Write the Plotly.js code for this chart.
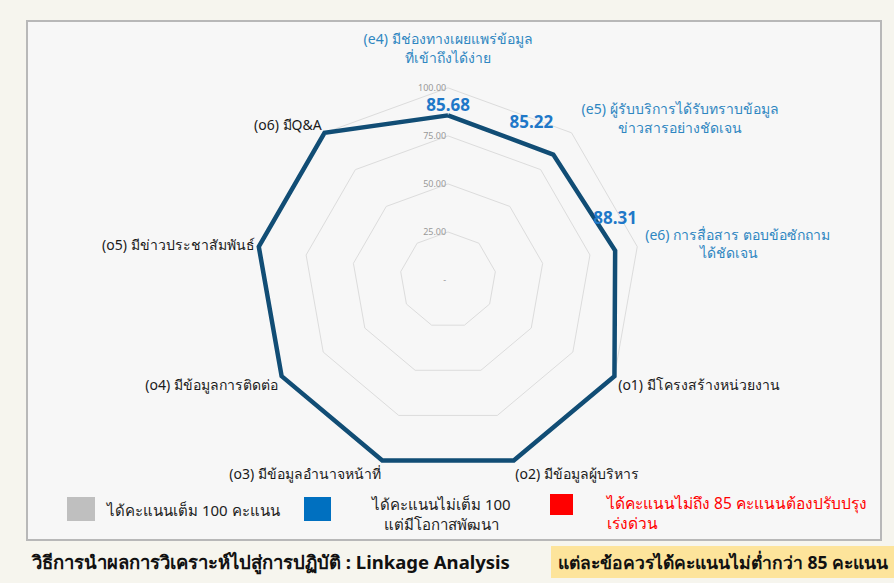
<!DOCTYPE html>
<html>
<head>
<meta charset="utf-8">
<script src="https://cdn.plot.ly/plotly-3.0.1.min.js"></script>
<style>
html,body{margin:0;padding:0;background:#f6f5ee;}
#chart{width:894px;height:583px;}
</style>
</head>
<body>
<div id="chart"></div>
<script>
// ---- data ----
const categories = [
  '(e4) มีช่องทางเผยแพร่ข้อมูล<br>ที่เข้าถึงได้ง่าย',
  '(e5) ผู้รับบริการได้รับทราบข้อมูล<br>ข่าวสารอย่างชัดเจน',
  '(e6) การสื่อสาร ตอบข้อซักถาม<br>ได้ชัดเจน',
  '(o1) มีโครงสร้างหน่วยงาน',
  '(o2) มีข้อมูลผู้บริหาร',
  '(o3) มีข้อมูลอำนาจหน้าที่',
  '(o4) มีข้อมูลการติดต่อ',
  '(o5) มีข่าวประชาสัมพันธ์',
  '(o6) มีQ&A'
];
const categoryGroup = ['e','e','e','o','o','o','o','o','o'];
const scores = [85.68, 85.22, 88.31, 100, 100, 100, 100, 100, 100];
const radialTicks = [0, 25, 50, 75, 100];
const radialTickLabels = ['-', '25.00', '50.00', '75.00', '100.00'];
const legendLabels = ['ได้คะแนนเต็ม 100 คะแนน', 'ได้คะแนนไม่เต็ม 100<br>แต่มีโอกาสพัฒนา', 'ได้คะแนนไม่ถึง 85 คะแนนต้องปรับปรุง<br>เร่งด่วน'];
const footerLeft = 'วิธีการนำผลการวิเคราะห์ไปสู่การปฏิบัติ : Linkage Analysis';
const footerRight = 'แต่ละข้อควรได้คะแนนไม่ต่ำกว่า 85 คะแนน';

// ---- build ----
const FONT = 'Noto Sans, Roboto, sans-serif';
const NB = n => '\u00a0'.repeat(n);
const ids = categories.map((c, i) => 'c' + i);
// label formatting per position (line indentation / spacing to mimic centred labels)
const labelFormat = [
  s => s + '<br> ',
  s => { const p = s.split('<br>'); return NB(2) + p[0] + '<br>' + NB(12) + p[1]; },
  s => { const p = s.split('<br>'); return NB(1) + p[0] + '<br>' + NB(16) + p[1]; },
  s => s, s => s, s => s, s => s, s => s, s => s
];
const tickText = categories.map((c, i) => {
  const t = labelFormat[i](c);
  return categoryGroup[i] === 'e' ? '<span style="color:#2e86c1">' + t + '</span>' : t;
});
const labelText = scores.map((v, i) => v < 100 ? v.toFixed(2) + (i >= 1 ? '<br> ' : '') : '');
const labelPos = ['top center', 'top left', 'top center', 'top center', 'top center', 'top center', 'top center', 'top center', 'top center'];

const trace = {
  type: 'scatterpolar',
  r: scores.concat([scores[0]]),
  theta: ids.concat([ids[0]]),
  mode: 'lines+text',
  text: labelText.concat(['']),
  textposition: labelPos.concat(['top center']),
  textfont: {family: FONT, size: 17, color: '#1f78c8', weight: 'bold'},
  line: {color: '#114d75', width: 4.5},
  cliponaxis: false,
  hoverinfo: 'skip'
};

const layout = {
  width: 894, height: 583,
  margin: {l: 0, r: 0, t: 0, b: 0},
  paper_bgcolor: '#f6f5ee',
  showlegend: false,
  font: {family: FONT},
  polar: {
    domain: {x: [0.2819, 0.7204], y: [0.1835, 0.8559]},
    bgcolor: 'rgba(0,0,0,0)',
    gridshape: 'linear',
    radialaxis: {
      range: [0, 102], tickvals: radialTicks, ticktext: radialTickLabels,
      angle: 90, tickangle: 90, side: 'counterclockwise',
      showline: false, ticks: '', layer: 'below traces',
      gridcolor: '#dcdcdc', gridwidth: 1,
      tickfont: {size: 9, color: '#999999'}
    },
    angularaxis: {
      type: 'category', categoryarray: ids, tickvals: ids, ticktext: tickText,
      rotation: 90, direction: 'clockwise', layer: 'below traces',
      showgrid: false, showline: false,
      ticks: '',
      tickfont: {size: 14, color: '#1a1a1a'}
    }
  },
  shapes: [
    {type: 'rect', xref: 'paper', yref: 'paper', x0: 27/894, x1: 881/894, y0: 1 - 540/583, y1: 1 - 21/583,
     fillcolor: '#f7f7f7', line: {color: '#b8b8b8', width: 2}, layer: 'below'},
    {type: 'rect', xref: 'paper', yref: 'paper', x0: 67/894, x1: 95/894, y0: 1 - 521/583, y1: 1 - 497/583,
     fillcolor: '#bfbfbf', line: {width: 0}},
    {type: 'rect', xref: 'paper', yref: 'paper', x0: 304/894, x1: 331/894, y0: 1 - 521/583, y1: 1 - 497/583,
     fillcolor: '#0070c0', line: {width: 0}},
    {type: 'rect', xref: 'paper', yref: 'paper', x0: 550/894, x1: 573/894, y0: 1 - 515/583, y1: 1 - 494/583,
     fillcolor: '#ff0000', line: {width: 0}},
    {type: 'rect', xref: 'paper', yref: 'paper', x0: 551/894, x1: 1, y0: 1 - 578/583, y1: 1 - 546/583,
     fillcolor: '#fde49b', line: {width: 0}}
  ],
  annotations: [
    {xref: 'paper', yref: 'paper', x: 104/894, y: 1 - 510/583, xanchor: 'left', yanchor: 'middle',
     text: legendLabels[0], showarrow: false, font: {size: 15, color: '#222'}},
    {xref: 'paper', yref: 'paper', x: 441/894, y: 1 - 514/583, xanchor: 'center', yanchor: 'middle', align: 'center',
     text: legendLabels[1], showarrow: false, font: {size: 15, color: '#222'}},
    {xref: 'paper', yref: 'paper', x: 603/894, y: 1 - 513/583, xanchor: 'left', yanchor: 'middle', align: 'left',
     text: legendLabels[2], showarrow: false, font: {size: 15.5, color: '#ff0000'}},
    {xref: 'paper', yref: 'paper', x: 29/894, y: 1 - 562/583, xanchor: 'left', yanchor: 'middle',
     text: '<b>' + footerLeft + '</b>', showarrow: false, font: {size: 18.5, color: '#111'}},
    {xref: 'paper', yref: 'paper', x: 556/894, y: 1 - 562/583, xanchor: 'left', yanchor: 'middle',
     text: '<b>' + footerRight + '</b>', showarrow: false, font: {size: 17.5, color: '#111'}}
  ]
};

Plotly.newPlot('chart', [trace], layout, {displayModeBar: false, staticPlot: true});
</script>
</body>
</html>
